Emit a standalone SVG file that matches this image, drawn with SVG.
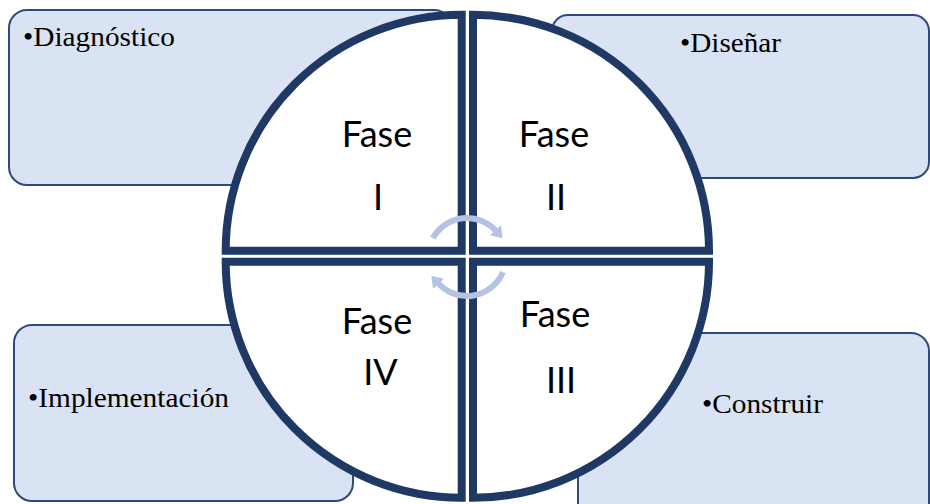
<svg xmlns="http://www.w3.org/2000/svg" width="930" height="504" viewBox="0 0 930 504">
<style>
.box{fill:#DAE3F3;stroke:#2E4A7D;stroke-width:2}
.quad{fill:#FFFFFF;stroke:#1F3864;stroke-width:8;stroke-linejoin:miter}
.lbl{font-family:"Liberation Serif","Times New Roman",serif;font-size:27px;fill:#000}
.fase{font-family:Lato,"Open Sans",sans-serif;font-size:36px;fill:#000;text-anchor:middle}
.arc{fill:none;stroke:#B4C3E4;stroke-width:6}
</style>
<defs>
<marker id="ah" markerUnits="userSpaceOnUse" viewBox="0 0 11 15" markerWidth="11" markerHeight="15" refX="1" refY="7.5" orient="auto">
<path d="M0,0 L11,7.5 L0,15 Z" fill="#B4C3E4"/>
</marker>
</defs>
<rect width="930" height="504" fill="#FFFFFF"/>
<g id="box-diagnostico">
<rect class="box" x="9" y="10" width="443" height="175" rx="18"/>
<text class="lbl" x="23" y="46" textLength="152" lengthAdjust="spacingAndGlyphs">•Diagnóstico</text>
</g>
<g id="box-disenar">
<rect class="box" x="552" y="15" width="377" height="163" rx="16"/>
<text class="lbl" x="680" y="52" textLength="101" lengthAdjust="spacingAndGlyphs">•Diseñar</text>
</g>
<g id="box-implementacion">
<rect class="box" x="14" y="325" width="339" height="176" rx="18"/>
<text class="lbl" x="28" y="407" textLength="201" lengthAdjust="spacingAndGlyphs">•Implementación</text>
</g>
<g id="box-construir">
<rect class="box" x="578" y="333" width="351" height="195" rx="18"/>
<text class="lbl" x="702" y="413" textLength="121" lengthAdjust="spacingAndGlyphs">•Construir</text>
</g>
<g id="fase-1">
<path class="quad" d="M461.7,250.8 L225.7,250.8 A236,236 0 0 1 461.7,14.8 Z"/>
<text class="fase" x="377" y="147">Fase</text>
<text class="fase" x="378" y="210">I</text>
</g>
<g id="fase-2">
<path class="quad" d="M473,250.8 L473,14.8 A236,236 0 0 1 709,250.8 Z"/>
<text class="fase" x="554" y="147">Fase</text>
<text class="fase" x="556" y="210">II</text>
</g>
<g id="fase-3">
<path class="quad" d="M473,261.8 L709,261.8 A236,236 0 0 1 473,497.8 Z"/>
<text class="fase" x="555" y="327">Fase</text>
<text class="fase" x="561" y="393">III</text>
</g>
<g id="fase-4">
<path class="quad" d="M461.7,261.8 L461.7,497.8 A236,236 0 0 1 225.7,261.8 Z"/>
<text class="fase" x="377" y="334">Fase</text>
<text class="fase" x="380.5" y="385">IV</text>
</g>
<g id="connectors">
<path class="arc" d="M432.9,238.1 A39,39 0 0 1 496,230.9" marker-end="url(#ah)"/>
<path class="arc" d="M502.9,272.2 A39,39 0 0 1 438,283.1" marker-end="url(#ah)"/>
</g>
</svg>
